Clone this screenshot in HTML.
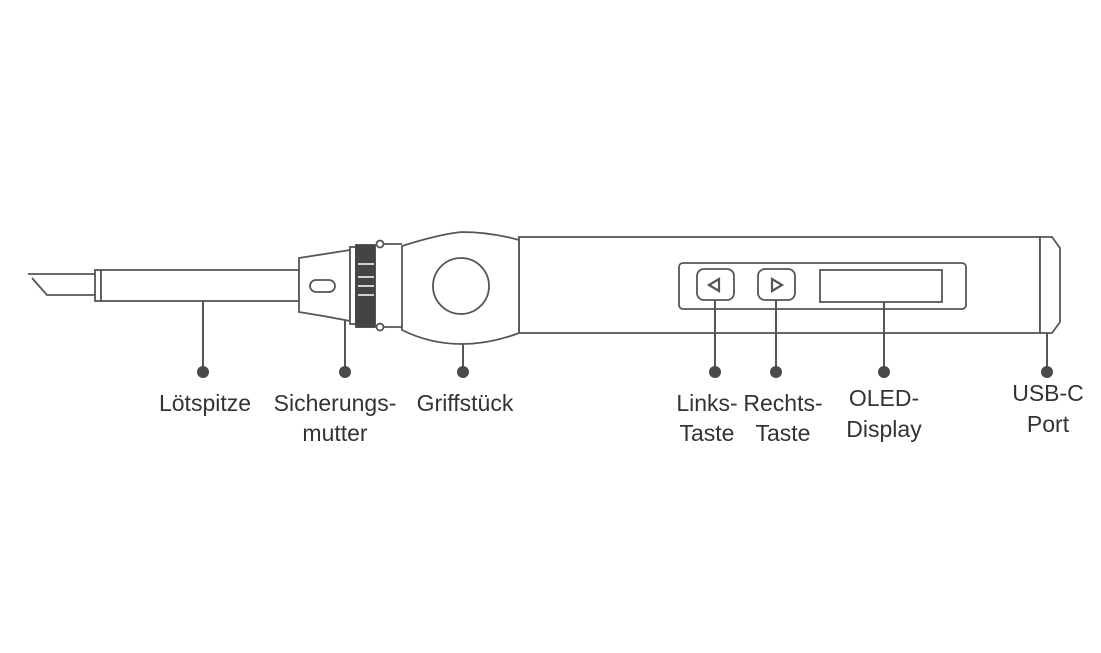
<!DOCTYPE html>
<html><head><meta charset="utf-8"><style>
body{margin:0;background:#fff;}
svg{display:block;}
text{font-family:"Liberation Sans",sans-serif;font-size:23px;fill:#333;text-anchor:middle;}
</style></head><body>
<svg width="1101" height="653" viewBox="0 0 1101 653" xmlns="http://www.w3.org/2000/svg">
<g fill="#fff" stroke="#555" stroke-width="1.8">
<path d="M28 274 H96 M32 278 L47 295 H96" fill="none"/>
<rect x="95" y="270" width="6" height="31"/>
<rect x="101" y="270" width="198" height="31"/>
<path d="M299 258 Q325 254 350 250 L350 321 Q325 316 299 312 Z"/>
<rect x="310" y="280" width="25" height="12" rx="6"/>
<rect x="350" y="247" width="6" height="77"/>
<rect x="356" y="245" width="19" height="82" fill="#444" stroke="#444"/>
<path d="M378 244 H402 M378 327 H402" fill="none"/>
<circle cx="380" cy="244" r="3.5"/>
<circle cx="380" cy="327" r="3.5"/>
<rect x="519" y="237" width="521" height="96"/>
<path d="M1040 237 H1052 L1060 248 V322 L1052 333 H1040 Z"/>
<path d="M402 246 Q440 234 462 232 Q490 232 519 240 V333 Q490 344 462 344 Q430 344 402 330 Z"/>
<circle cx="461" cy="286" r="28"/>
<rect x="679" y="263" width="287" height="46" rx="4"/>
<rect x="697" y="269" width="37" height="31" rx="7"/>
<rect x="758" y="269" width="37" height="31" rx="7"/>
<rect x="820" y="270" width="122" height="32"/>
<path d="M719 279 L709 285 L719 291 Z M772 279 L782 285 L772 291 Z" stroke-width="2.2"/>
</g>
<g stroke="#fff" stroke-width="1.5">
<path d="M358 264 H374 M358 277 H374 M358 286 H374 M358 295 H374"/>
</g>
<g stroke="#555" stroke-width="2" fill="none">
<path d="M203 301 V372 M345 320 V372 M463 344 V372 M715 300 V372 M776 300 V372 M884 302 V372 M1047 333 V372"/>
</g>
<g fill="#4a4a4a">
<circle cx="203" cy="372" r="6"/><circle cx="345" cy="372" r="6"/><circle cx="463" cy="372" r="6"/>
<circle cx="715" cy="372" r="6"/><circle cx="776" cy="372" r="6"/><circle cx="884" cy="372" r="6"/><circle cx="1047" cy="372" r="6"/>
</g>
<text x="205" y="411">Lötspitze</text>
<text x="335" y="411">Sicherungs-</text>
<text x="335" y="441">mutter</text>
<text x="465" y="411">Griffstück</text>
<text x="707" y="411">Links-</text>
<text x="707" y="441">Taste</text>
<text x="783" y="411">Rechts-</text>
<text x="783" y="441">Taste</text>
<text x="884" y="406">OLED-</text>
<text x="884" y="437">Display</text>
<text x="1048" y="401">USB-C</text>
<text x="1048" y="432">Port</text>
</svg>
</body></html>
